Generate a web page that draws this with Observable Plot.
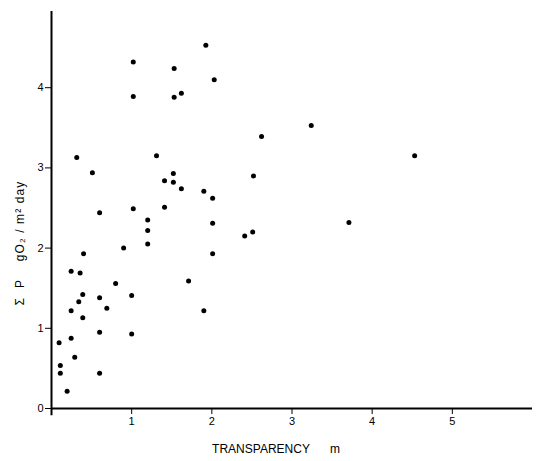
<!DOCTYPE html>
<html>
<head>
<meta charset="utf-8">
<script src="https://cdn.jsdelivr.net/npm/d3@7"></script>
<script src="https://cdn.jsdelivr.net/npm/@observablehq/plot@0.6"></script>
<style>
  html, body { margin: 0; padding: 0; background: white; }
</style>
</head>
<body>
<div id="chart"></div>
<script>
// Transparency (m)
const transparency = [
  1.925, 1.02, 1.53, 2.03, 1.62, 1.02, 1.53, 2.62, 0.315, 1.31,
  0.51, 1.52, 1.41, 1.52, 2.52, 1.62, 1.90, 2.01, 0.60, 1.02,
  1.41, 1.20, 3.24, 4.53, 3.71, 1.20, 1.20, 2.01, 2.41, 2.51,
  0.90, 0.40, 2.01, 0.245, 0.357, 0.80, 1.71, 0.39, 0.60, 1.00,
  0.34, 0.69, 0.245, 1.90, 0.39, 0.60, 1.00, 0.245, 0.095, 0.29,
  0.11, 0.11, 0.60, 0.195
];
// Sum P (g O2 / m2 day)
const production = [
  4.53, 4.32, 4.24, 4.10, 3.93, 3.89, 3.88, 3.39, 3.13, 3.15,
  2.94, 2.93, 2.84, 2.82, 2.90, 2.74, 2.71, 2.62, 2.44, 2.49,
  2.51, 2.35, 3.53, 3.15, 2.32, 2.22, 2.05, 2.31, 2.15, 2.20,
  2.00, 1.93, 1.93, 1.71, 1.69, 1.56, 1.59, 1.42, 1.38, 1.41,
  1.33, 1.25, 1.22, 1.22, 1.13, 0.95, 0.93, 0.875, 0.82, 0.64,
  0.535, 0.44, 0.44, 0.215
];
const xTicks = [1, 2, 3, 4, 5];
const yTicks = [0, 1, 2, 3, 4];
const xLabel = "TRANSPARENCY\u00A0\u00A0\u00A0\u00A0\u00A0\u00A0m";
const yLabel = "\u03A3\u00A0\u00A0P\u00A0\u00A0\u00A0\u00A0gO\u2082\u00A0/\u00A0m\u00B2\u00A0day";

const data = transparency.map((t, i) => ({t, p: production[i]}));

const chart = Plot.plot({
  width: 550,
  height: 461,
  marginLeft: 51,
  marginRight: 18,
  marginTop: 11,
  marginBottom: 53,
  style: {fontFamily: "Liberation Sans, Arial, sans-serif", fontSize: "11px", background: "white", color: "black"},
  x: {domain: [0, 6]},
  y: {domain: [0, 4.95]},
  marks: [
    Plot.axisX(xTicks, {tickSize: 6, tickPadding: 3, label: null, fontSize: 11, tickFormat: "d"}),
    Plot.axisY(yTicks, {tickSize: 6, tickPadding: 2, label: null, fontSize: 11, tickFormat: "d"}),
    Plot.ruleY([0], {stroke: "black", strokeWidth: 2}),
    Plot.ruleX([0], {y1: -0.09, y2: 4.95, stroke: "black", strokeWidth: 2}),
    Plot.dot(data, {x: "t", y: "p", r: 2.5, fill: "black", stroke: null}),
    Plot.text([xLabel], {frameAnchor: "bottom", dx: -16, dy: 41, fontSize: 12, textAnchor: "middle", lineAnchor: "middle"}),
    Plot.text([yLabel], {frameAnchor: "left", rotate: -90, dx: -31, dy: 33, fontSize: 12, textAnchor: "middle", lineAnchor: "middle"})
  ]
});
d3.select(chart).selectAll("text")
  .filter(function() { return this.textContent === yLabel; })
  .style("letter-spacing", "1.1px");
document.getElementById("chart").appendChild(chart);
</script>
</body>
</html>
